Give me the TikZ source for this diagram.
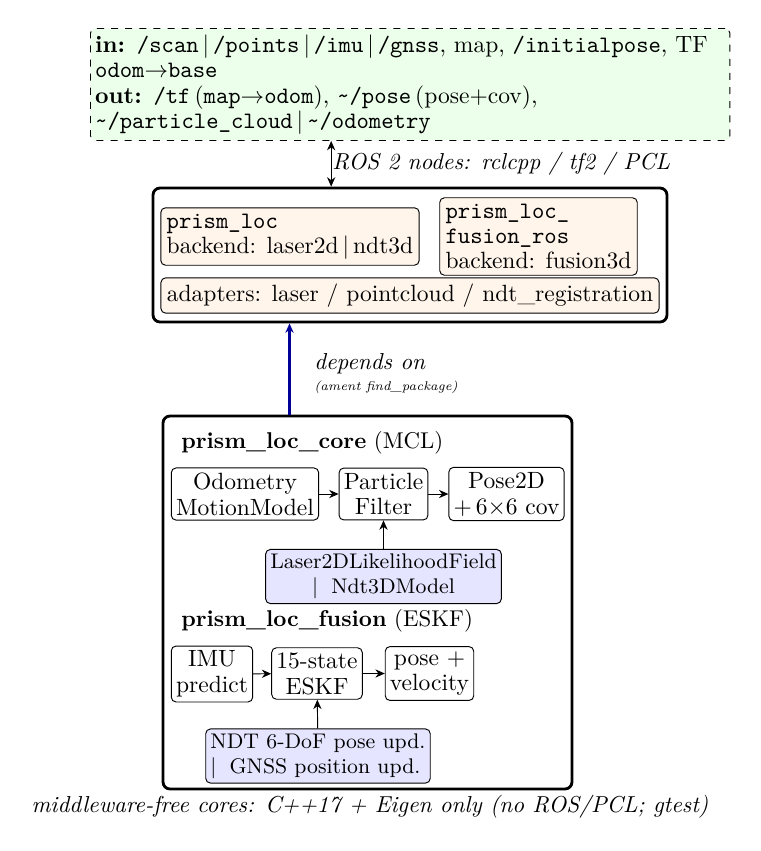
\documentclass[tikz,border=0pt]{standalone}
\usepackage{amsmath}
\usetikzlibrary{arrows.meta,positioning}
\newdimen\pxu \pxu=0.425pt
\tikzset{
  blk/.style={draw,rounded corners=2pt,fill=white,align=center,inner sep=2pt,font=\fontsize{10}{11}\selectfont},
  pkg/.style={draw,rounded corners=2pt,fill=orange!8,align=left,inner sep=2.5pt,font=\fontsize{10}{10.8}\selectfont},
  mdl/.style={draw,rounded corners=2pt,fill=blue!10,align=center,inner sep=2pt,font=\fontsize{9}{10.5}\selectfont},
  grp/.style={draw,very thick,rounded corners=3pt},
  ttl/.style={anchor=west,font=\fontsize{9.7}{11}\selectfont},
  lbl/.style={font=\fontsize{9.8}{11}\selectfont\itshape},
  flow/.style={-{Stealth[length=4pt,width=3.5pt]}},
}

\begin{document}
\begin{tikzpicture}[x=0.425pt,y=-0.425pt]
  \useasboundingbox (0,0) rectangle (760,851);
  % interfaces
  \node[draw,dashed,rounded corners=2pt,fill=green!8,anchor=north west,align=left,
        text width=630\pxu,minimum height=112\pxu,inner sep=2pt,
        font=\fontsize{10}{10.8}\selectfont] (io) at (90,28)
    {\textbf{in:} \texttt{/scan}$\,|\,$\texttt{/points}$\,|\,$\texttt{/imu}$\,|\,$\texttt{/gnss}, map, \texttt{/initialpose}, TF\\
     \texttt{odom}$\to$\texttt{base}\\
     \textbf{out:} \texttt{/tf}\,(\texttt{map}$\to$\texttt{odom}), \texttt{\string~/pose}\,(pose+cov),\\
     \texttt{\string~/particle\_cloud}$\,|\,$\texttt{\string~/odometry}};
  % ROS 2 layer
  \node[grp,minimum width=514\pxu,minimum height=134\pxu] (ros) at (410,255) {};
  \node[pkg] (loc) at (290,236.5) {\texttt{prism\_loc}\\backend: laser2d$\,|\,$ndt3d};
  \node[pkg] (fros) at (538.5,236.5) {\texttt{prism\_loc\_}\\\texttt{fusion\_ros}\\backend: fusion3d};
  \node[pkg] (adp) at (410,295.5) {adapters: laser / pointcloud / ndt\_registration};
  \draw[{Stealth[length=4pt,width=3.5pt]}-{Stealth[length=4pt,width=3.5pt]}]
    ([xshift=-79\pxu]io.south) -- ([xshift=-79\pxu]io.south |- ros.north)
    node[midway,right=-3pt,lbl] {ROS 2 nodes: rclcpp / tf2 / PCL};
  % cores
  \node[grp,minimum width=409\pxu,minimum height=373\pxu] (core) at (367.5,602.5) {};
  \draw[flow,very thick,blue!60!black] ([xshift=-78\pxu]core.north) -- ([xshift=-78\pxu]core.north |- ros.south);
  \node[anchor=west,lbl] (dep) at (306,364) {depends on};
  \node[anchor=west,font=\fontsize{5.4}{6}\selectfont\itshape] (amt) at (306,387) {(ament find\_package)};

  \node[ttl] (mcl) at (173,443) {\textbf{prism\_loc\_core} (MCL)};
  \node[blk] (odo) at (245,494) {Odometry\\MotionModel};
  \node[blk] (pf) at (383.5,494) {Particle\\Filter};
  \node[blk] (pose) at (506.5,494) {Pose2D\\$+\,6{\times}6$ cov};
  \node[mdl] (lik) at (383.5,576.5) {Laser2DLikelihoodField\\$|$\; Ndt3DModel};
  \draw[flow] (odo) -- (pf);
  \draw[flow] (pf) -- (pose);
  \draw[flow] (lik) -- (pf);

  \node[ttl] (eskftitle) at (173,621) {\textbf{prism\_loc\_fusion} (ESKF)};
  \node[blk] (imu) at (212,674) {IMU\\predict};
  \node[blk] (eskf) at (317,673.5) {15-state\\ESKF};
  \node[blk] (vel) at (429.5,673.5) {pose $+$\\velocity};
  \node[mdl,align=left] (upd) at (318,756) {NDT 6-DoF pose upd.\\$|$\; GNSS position upd.};
  \draw[flow] (imu) -- (eskf);
  \draw[flow] (eskf) -- (vel);
  \draw[flow] (upd) -- (eskf);

  \node[lbl] (note) at (370,807) {middleware-free cores: C++17 + Eigen only (no ROS/PCL; gtest)};
\end{tikzpicture}
\end{document}
